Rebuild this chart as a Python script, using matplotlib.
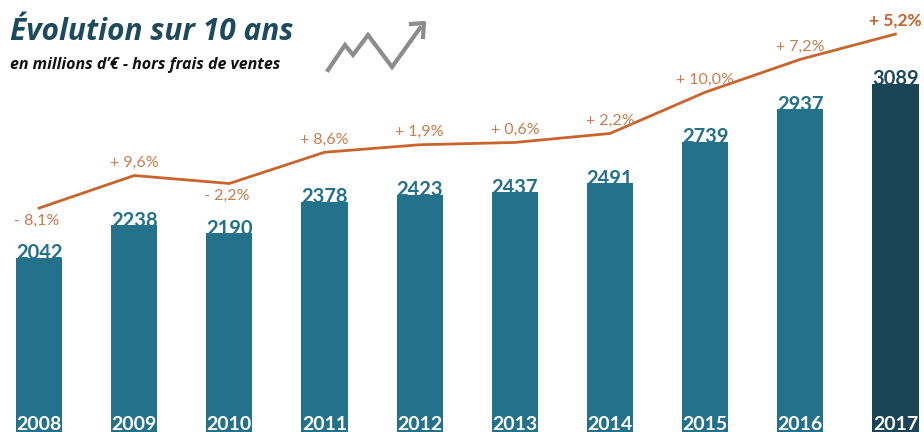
import matplotlib
matplotlib.use('Agg')
import matplotlib.pyplot as plt
import numpy as np
from matplotlib.lines import Line2D

years = ['2008', '2009', '2010', '2011', '2012', '2013', '2014', '2015', '2016', '2017']
values = [2042, 2238, 2190, 2378, 2423, 2437, 2491, 2739, 2937, 3089]
growth = ['- 8,1%', '+ 9,6%', '- 2,2%', '+ 8,6%', '+ 1,9%', '+ 0,6%',
          '+ 2,2%', '+ 10,0%', '+ 7,2%', '+ 5,2%']

bar_col = '#23718b'
last_col = '#1b4557'
line_col = '#c9652c'
pct_col = '#c97c4e'

plt.rcParams['font.family'] = ['Lato', 'DejaVu Sans']

fig = plt.figure(figsize=(9.24, 4.32), dpi=100)
ax = fig.add_axes([0, 0, 1, 1])

x = np.arange(len(years))
cols = [bar_col] * (len(years) - 1) + [last_col]
ax.bar(x, values, width=0.485, color=cols, zorder=2)

# growth line follows the bars, drawn a bit above them
line_y = np.array(values) + 300
ax.plot(x, line_y, color=line_col, lw=2, zorder=3)

for i, v in enumerate(values):
    ax.text(i, v - 8, str(v), ha='center', va='baseline', fontsize=14.5,
            fontweight='bold', color=cols[i] if i < 9 else '#1d4a5c', zorder=4)
    ax.text(i, 0.037, years[i], transform=ax.get_xaxis_transform(), ha='center',
            va='top', fontsize=14, fontweight='bold', color='white', zorder=4)
    g = growth[i]
    if g.startswith('-'):
        ax.annotate(g, (i, line_y[i]), xytext=(-2, -4), textcoords='offset points',
                    ha='center', va='top', fontsize=11.5, color=pct_col)
    elif i == len(years) - 1:
        ax.annotate(g, (i, line_y[i]), xytext=(0, 4), textcoords='offset points',
                    ha='center', va='bottom', fontsize=12.5, fontweight='bold',
                    color='#c0602a')
    else:
        ax.annotate(g, (i, line_y[i]), xytext=(0, 4), textcoords='offset points',
                    ha='center', va='bottom', fontsize=11.5, color=pct_col)

ax.set_xlim(-0.41, 9.3)
ax.set_ylim(995, 3594)
ax.axis('off')

fig.text(0.011, 0.925, 'Évolution sur 10 ans', fontsize=21.5, fontweight='bold',
         fontstyle='italic', color='#1e4a5e', va='center', family='Open Sans')
fig.text(0.011, 0.85, 'en millions d\u2019€ - hors frais de ventes', fontsize=11.5,
         fontweight='bold', fontstyle='italic', color='#111111', va='center',
         family='Open Sans')

# small trend icon
ix = np.array([328, 345, 353, 368, 392, 420]) / 924
iy = 1 - np.array([70, 45, 55, 35, 67, 28]) / 432
fig.add_artist(Line2D(ix, iy, color='#8c8c8c', lw=3, solid_joinstyle='miter'))
fig.add_artist(Line2D([411 / 924, 424 / 924, 423 / 924],
                      [1 - 24 / 432, 1 - 23 / 432, 1 - 37 / 432],
                      color='#8c8c8c', lw=3))

fig.savefig('out.png', dpi=100)
